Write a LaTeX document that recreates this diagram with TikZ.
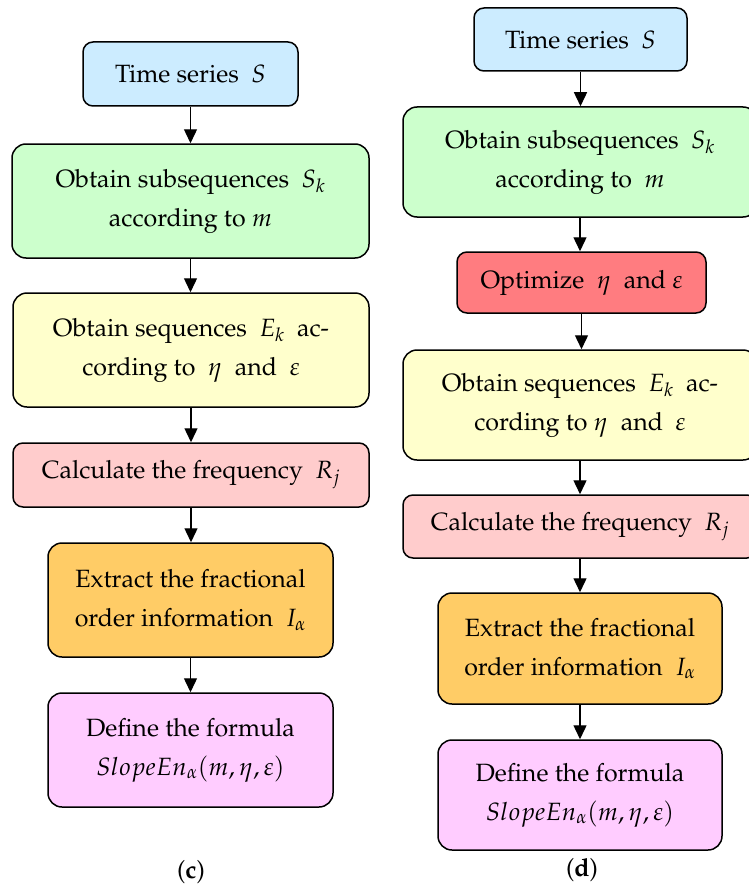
\documentclass[tikz,border=0pt]{standalone}
\usepackage[T1]{fontenc}
\usepackage{mathpazo}
\usetikzlibrary{arrows.meta}
\definecolor{cblue}{HTML}{CCECFF}
\definecolor{cgreen}{HTML}{CCFFCC}
\definecolor{cyellow}{HTML}{FFFFCC}
\definecolor{cpink}{HTML}{FFCCCC}
\definecolor{cred}{HTML}{FF7C80}
\definecolor{corange}{HTML}{FFCC66}
\definecolor{cmagenta}{HTML}{FFCCFF}
\tikzset{
  box/.style={draw=black, line width=1.5pt, rounded corners=14pt, align=center,
    inner sep=0pt, font=\fontsize{25}{39}\selectfont},
  flow/.style={line width=1.4pt, -{Triangle[width=13pt,length=14pt]}},
}
\begin{document}
\begin{tikzpicture}[x=1pt,y=-1pt]
\useasboundingbox (0,0) rectangle (748,888);
% (c)
\node[box, fill=cblue, minimum width=215pt, minimum height=64pt, rounded corners=10pt] (c1) at (190.5,74) {Time series\ \ $S$};
\node[box, fill=cgreen, minimum width=357pt, minimum height=114pt] (c2) at (190.5,201) {Obtain subsequences\ \ $S_k$\\according to $m$};
\node[box, fill=cyellow, minimum width=356pt, minimum height=114pt] (c3) at (191,350) {Obtain sequences\ \ $E_k$\ \ ac-\\cording to\ \ $\eta$\ \ and\ \ $\varepsilon$};
\node[box, fill=cpink, minimum width=356pt, minimum height=64pt, rounded corners=10pt] (c4) at (191,475) {Calculate the frequency\ \ $R_j$};
\node[box, fill=corange, minimum width=285pt, minimum height=114pt] (c5) at (190.5,600) {Extract the fractional\\order information\ \ $I_\alpha$};
\node[box, fill=cmagenta, minimum width=285pt, minimum height=114pt] (c6) at (190.5,750) {Define the formula\\$SlopeEn_\alpha(m,\eta,\varepsilon)$};
\node[font=\fontsize{25}{30}\selectfont] (lc) at (191,872) {(\textbf{c})};
\foreach \a/\b in {c1/c2,c2/c3,c3/c4,c4/c5,c5/c6}
  \draw[flow] (\a.south) -- (\a.south |- \b.north);
% (d)
\node[box, fill=cblue, minimum width=213pt, minimum height=63pt, rounded corners=10pt] (d1) at (580.5,39.5) {Time series\ \ $S$};
\node[box, fill=cgreen, minimum width=354pt, minimum height=110pt] (d2) at (580,162) {Obtain subsequences\ \ $S_k$\\according to\ \ $m$};
\node[box, fill=cred, minimum width=249pt, minimum height=61pt, rounded corners=10pt] (d3) at (581.5,282.5) {Optimize\ \ $\eta$\ \ and $\varepsilon$};
\node[box, fill=cyellow, minimum width=354pt, minimum height=110pt] (d4) at (580,405) {Obtain sequences\ \ $E_k$\ \ ac-\\cording to $\eta$\ \ and\ \ $\varepsilon$};
\node[box, fill=cpink, minimum width=354pt, minimum height=63pt, rounded corners=10pt] (d5) at (580,526.5) {Calculate the frequency\ \ $R_j$};
\node[box, fill=corange, minimum width=284pt, minimum height=111pt] (d6) at (580,648.5) {Extract the fractional\\order information\ \ $I_\alpha$};
\node[box, fill=cmagenta, minimum width=284pt, minimum height=110pt] (d7) at (580,795) {Define the formula\\$SlopeEn_\alpha(m,\eta,\varepsilon)$};
\node[font=\fontsize{25}{30}\selectfont] (ld) at (582,870) {(\textbf{d})};
\foreach \a/\b in {d1/d2,d2/d3,d3/d4,d4/d5,d5/d6,d6/d7}
  \draw[flow] (\a.south) -- (\a.south |- \b.north);
\end{tikzpicture}
\end{document}
